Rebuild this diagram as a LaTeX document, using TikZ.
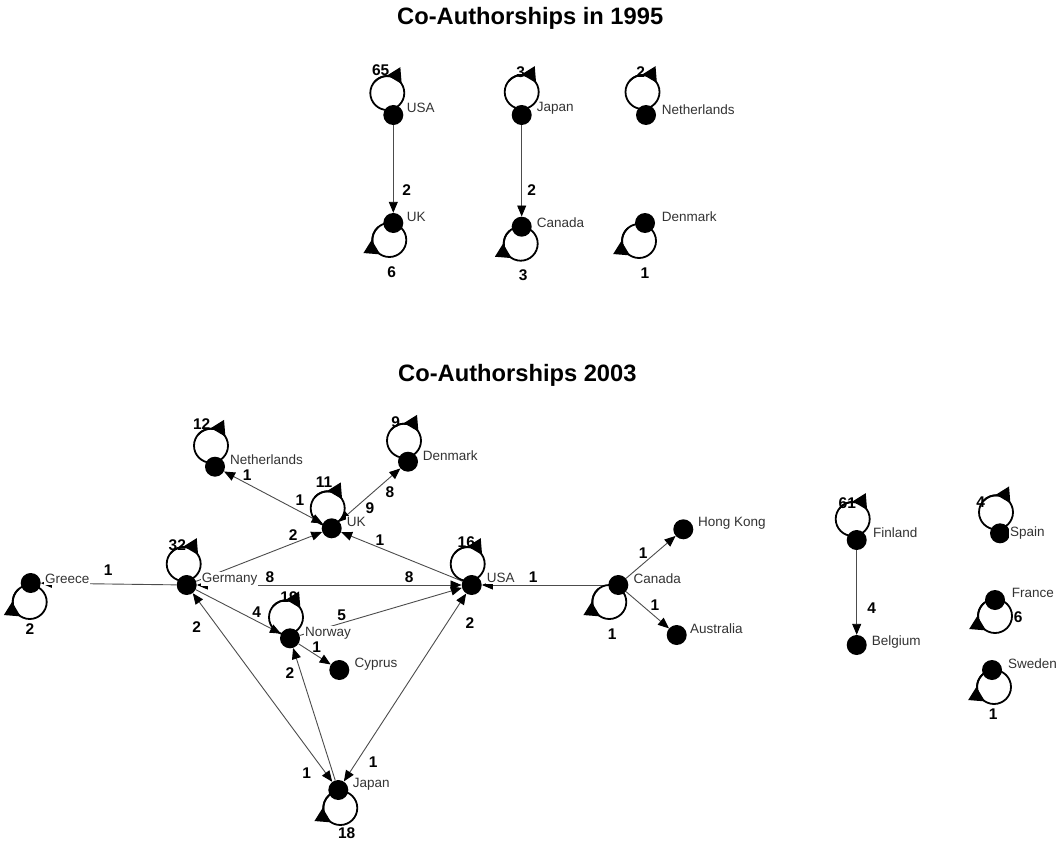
\documentclass[tikz,border=0pt]{standalone}
\usepackage{fontspec}
\setmainfont{Liberation Sans}
\usetikzlibrary{arrows.meta,calc}
\newcommand\lpup[3]{%
  \draw[loopc] ($(#1)+(#2,#3)$) circle[radius=17];
  \draw[loopc,-{Triangle[length=15pt,width=15pt]}] ($(#1)+(#2,#3)$) ++(-140:17) arc[start angle=-140,end angle=-32,radius=17];}
\newcommand\lpdown[3]{%
  \draw[loopc] ($(#1)+(#2,#3)$) circle[radius=17];
  \draw[loopc,-{Triangle[length=15pt,width=15pt]}] ($(#1)+(#2,#3)$) ++(230:17) arc[start angle=230,end angle=122,radius=17];}
\begin{document}
\begin{tikzpicture}[x=1pt,y=-1pt,
  vertex/.style={circle,fill=black,inner sep=0pt,minimum size=20pt},
  lbl/.style={anchor=west,fill=white,inner sep=1pt,text=black!80,font=\fontsize{13.5}{15}\selectfont},
  val/.style={font=\fontsize{15.5}{17}\selectfont\bfseries,inner sep=0pt},
  edge/.style={draw=black!70,line width=0.9pt,-{Triangle[length=11pt,width=9pt,color=black]}},
  bedge/.style={draw=black!70,line width=0.9pt,{Triangle[length=11pt,width=9pt,color=black]}-{Triangle[length=11pt,width=9pt,color=black]}},
  loopc/.style={line width=1.8pt,draw=black},
  ttl/.style={font=\fontsize{23.7}{27}\selectfont\bfseries,anchor=west,inner sep=0pt}]
\useasboundingbox (0,0) rectangle (1061,843);
% titles
\node[ttl] (t1) at (397,18) {Co-Authorships in 1995};
\node[ttl] (t2) at (398,375) {Co-Authorships 2003};
% vertices 1995
\node[vertex] (U1) at (393.3,115) {};
\node[vertex] (K1) at (393.3,223) {};
\node[vertex] (J1) at (521.7,115) {};
\node[vertex] (C1) at (521.7,226.7) {};
\node[vertex] (N1) at (646,115) {};
\node[vertex] (D1) at (645,223) {};
% vertices 2003
\node[vertex] (GR) at (30.7,583) {};
\node[vertex] (DE) at (186.7,585) {};
\node[vertex] (NL) at (215,466.7) {};
\node[vertex] (DK) at (408,461.7) {};
\node[vertex] (UK) at (331.7,528.3) {};
\node[vertex] (US) at (471.7,585) {};
\node[vertex] (NO) at (290,638.3) {};
\node[vertex] (CY) at (339.3,670) {};
\node[vertex] (JP) at (338.3,790) {};
\node[vertex] (CA) at (618.3,585) {};
\node[vertex] (HK) at (683.3,529.3) {};
\node[vertex] (AU) at (676.7,635) {};
\node[vertex] (FI) at (856.7,540) {};
\node[vertex] (BE) at (856.7,645) {};
\node[vertex] (ES) at (1000,533.3) {};
\node[vertex] (FR) at (995,600) {};
\node[vertex] (SE) at (992,670) {};
% edges 1995
\draw[edge] (U1) -- (K1);
\draw[edge] (J1) -- (C1);
% edges 2003
\draw[edge] (DE) -- (GR);
\draw[bedge] (DE) -- (US);
\draw[edge] (DE) -- (UK);
\draw[bedge] (NL) -- (UK);
\draw[bedge] (UK) -- (DK);
\draw[edge] (US) -- (UK);
\draw[edge] (NO) -- (US);
\draw[edge] (DE) -- (NO);
\draw[bedge] (DE) -- (JP);
\draw[edge] (JP) -- (NO);
\draw[bedge] (JP) -- (US);
\draw[edge] (NO) -- (CY);
\draw[edge] (CA) -- (US);
\draw[edge] (CA) -- (HK);
\draw[edge] (CA) -- (AU);
\draw[edge] (FI) -- (BE);
% country labels 1995
\node[lbl] (lU1) at (405.7,108.3) {USA};
\node[lbl] (lK1) at (405.7,216.7) {UK};
\node[lbl] (lJ1) at (535.7,108) {Japan};
\node[lbl] (lC1) at (535.7,223) {Canada};
\node[lbl] (lN1) at (660.7,110) {Netherlands};
\node[lbl] (lD1) at (660.7,216.7) {Denmark};
% country labels 2003
\node[lbl] (lGR) at (44,579) {Greece};
\node[lbl] (lDE) at (200.7,579) {Germany};
\node[lbl] (lNL) at (229,460) {Netherlands};
\node[lbl] (lDK) at (421.7,456) {Denmark};
\node[lbl] (lUK) at (345.7,521.7) {UK};
\node[lbl] (lUS) at (485.7,578) {USA};
\node[lbl] (lNO) at (304,633) {Norway};
\node[lbl] (lCY) at (353.3,664) {Cyprus};
\node[lbl] (lJP) at (351.7,784.3) {Japan};
\node[lbl] (lCA) at (632.3,579) {Canada};
\node[lbl] (lHK) at (697,523) {Hong Kong};
\node[lbl] (lAU) at (689,629) {Australia};
\node[lbl] (lFI) at (872,533) {Finland};
\node[lbl] (lBE) at (870.7,641.7) {Belgium};
\node[lbl] (lES) at (1009,533) {Spain};
\node[lbl] (lFR) at (1010.7,593.3) {France};
\node[lbl] (lSE) at (1007,664) {Sweden};
% loops 1995
\lpup{U1}{-6}{-22}
\lpup{J1}{0}{-23}
\lpup{N1}{-3.5}{-23}
\lpdown{K1}{-4}{17}
\lpdown{C1}{-1}{17}
\lpdown{D1}{-6}{18}
% loops 2003
\lpup{DE}{-3}{-21}
\lpup{NL}{-4}{-21}
\lpup{DK}{-4}{-21}
\lpup{UK}{-4}{-20}
\lpup{US}{-4}{-21}
\lpup{NO}{-4}{-21}
\lpup{FI}{-4}{-21}
\lpup{ES}{-4}{-21}
\lpdown{GR}{-1}{19}
\lpdown{JP}{2}{18}
\lpdown{CA}{-9}{17}
\lpdown{FR}{0}{16}
\lpdown{SE}{2}{17}
% values 1995
\node[val] (a1) at (406.7,190) {2};
\node[val] (a2) at (531.7,190) {2};
\node[val] (a3) at (380.7,70) {65};
\node[val] (a4) at (520.7,71.7) {3};
\node[val] (a5) at (640.7,71.7) {2};
\node[val] (a6) at (391.7,271.7) {6};
\node[val] (a7) at (523.3,275) {3};
\node[val] (a8) at (645,273.3) {1};
% values 2003
\node[val] (b1) at (30,629) {2};
\node[val] (b2) at (108.3,570) {1};
\node[val] (b3) at (177.3,545) {32};
\node[val] (b4) at (201.7,424) {12};
\node[val] (b5) at (247.3,475) {1};
\node[val] (b6) at (395.7,421.7) {9};
\node[val] (b7) at (324,481.7) {11};
\node[val] (b8) at (300,500) {1};
\node[val] (b9) at (390,491.7) {8};
\node[val] (b10) at (370,508.3) {9};
\node[val] (b11) at (293.3,535) {2};
\node[val] (b12) at (380,540) {1};
\node[val] (b13) at (466.3,541.7) {16};
\node[val] (b14) at (270,576.7) {8};
\node[val] (b15) at (409.3,576.7) {8};
\node[val] (b16) at (533.3,576.7) {1};
\node[val] (b17) at (256.7,611.7) {4};
\node[val] (b18) at (289,596.7) {19};
\node[val] (b19) at (341.7,615) {5};
\node[val] (b20) at (196.7,626.7) {2};
\node[val] (b21) at (470,623.3) {2};
\node[val] (b22) at (316.7,646.7) {1};
\node[val] (b23) at (290,673.3) {2};
\node[val] (b24) at (306.7,773.3) {1};
\node[val] (b25) at (373.3,761.7) {1};
\node[val] (b26) at (346.7,833) {18};
\node[val] (b27) at (612.3,634) {1};
\node[val] (b28) at (643.3,552.7) {1};
\node[val] (b29) at (655,605) {1};
\node[val] (b30) at (847.3,503.3) {61};
\node[val] (b31) at (871.7,608.3) {4};
\node[val] (b32) at (980.7,501.7) {4};
\node[val] (b33) at (1018.3,616.7) {6};
\node[val] (b34) at (993.3,714) {1};
\end{tikzpicture}
\end{document}
